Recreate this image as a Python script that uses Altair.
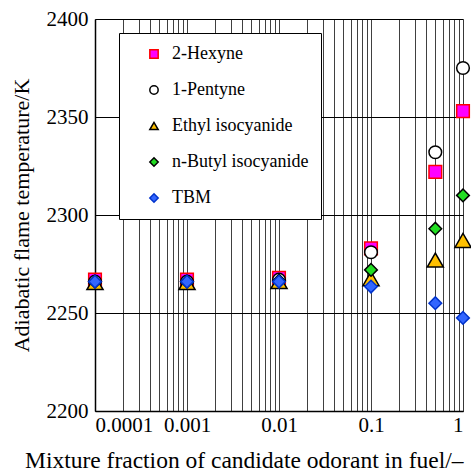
import altair as alt
import pandas as pd

fractions = [0.0001, 0.001, 0.01, 0.1, 0.5, 1.0]
series_names = ["2-Hexyne", "1-Pentyne", "Ethyl isocyanide", "n-Butyl isocyanide", "TBM"]
hexyne = [2267, 2267, 2268, 2283, 2322, 2353]
pentyne = [2266, 2266, 2267, 2281, 2332, 2375]
ethyl_iso = [2265.5, 2265.5, 2266, 2267.5, 2277, 2287]
butyl_iso = [2266, 2266, 2266.5, 2272, 2293, 2310]
tbm = [2266, 2266, 2266, 2263.5, 2255, 2247.5]

all_values = [hexyne, pentyne, ethyl_iso, butyl_iso, tbm]

shapes = ["square", "circle", "triangle-up", "diamond", "diamond"]
fills = ["#FF00FF", "#FFFFFF", "#FFC000", "#22DD22", "#3366FF"]
strokes = ["#FF0000", "#000000", "#000000", "#000000", "#0033CC"]

x_ticks = [m * 10.0 ** e for e in (-4, -3, -2, -1) for m in range(1, 10)] + [1.0]
x_ticks = [float(f"{v:.10g}") for v in x_ticks]
y_ticks = [2200, 2250, 2300, 2350, 2400]

rows = []
for name, vals in zip(series_names, all_values):
    for f, v in zip(fractions, vals):
        rows.append({"fraction": f, "temp": v, "series": name})
df = pd.DataFrame(rows)

font = "Liberation Serif"

legend = alt.Legend(
    title=None,
    orient="none",
    legendX=24,
    legendY=14,
    fillColor="white",
    strokeColor="black",
    padding=12,
    symbolOffset=14,
    labelOffset=9,
    rowPadding=18,
    labelFont=font,
    labelFontSize=18,
    labelColor="black",
    symbolSize=70,
    symbolStrokeWidth=1.5,
)

enc = dict(
    x=alt.X(
        "fraction:Q",
        scale=alt.Scale(type="log", domain=[0.0001, 1]),
        axis=alt.Axis(
            values=x_ticks,
            labelExpr="indexof([0.0001,0.001,0.01,0.1,1], datum.value) >= 0 ? datum.label : ''",
            format="~g",
            labelOverlap=False,
            ticks=False,
            grid=True,
            gridColor="black",
            gridOpacity=0.75,
            gridWidth=1,
            title="Mixture fraction of candidate odorant in fuel/\u2013",
            titleFont=font,
            titleFontWeight="normal",
            titleColor="black",
            titleFontSize=23.5,
            titleX=368,
            titleAlign="right",
            titlePadding=13,
            labelFont=font,
            labelColor="black",
            labelFontSize=21,
            labelPadding=3,
            domainColor="black",
            domainWidth=1.5,
        ),
    ),
    y=alt.Y(
        "temp:Q",
        scale=alt.Scale(domain=[2200, 2400]),
        axis=alt.Axis(
            values=y_ticks,
            format="d",
            ticks=False,
            grid=True,
            gridColor="black",
            gridWidth=1,
            title="Adiabatic flame temperature/K",
            titleFont=font,
            titleFontWeight="normal",
            titleColor="black",
            titleFontSize=22,
            titlePadding=13,
            labelFont=font,
            labelColor="black",
            labelFontSize=21,
            labelPadding=7,
            domainColor="black",
            domainWidth=1.5,
        ),
    ),
    shape=alt.Shape("series:N", scale=alt.Scale(domain=series_names, range=shapes), legend=legend),
    fill=alt.Fill("series:N", scale=alt.Scale(domain=series_names, range=fills), legend=legend),
    stroke=alt.Stroke("series:N", scale=alt.Scale(domain=series_names, range=strokes), legend=legend),
)

base = alt.Chart(df)
layer_a = base.mark_point(filled=True, size=160, strokeWidth=1.5, opacity=1).encode(**enc).transform_filter(
    alt.FieldOneOfPredicate(field="series", oneOf=series_names[0:2])
)
layer_b = base.mark_point(filled=True, size=260, strokeWidth=1.5, opacity=1).encode(**enc).transform_filter(
    alt.FieldOneOfPredicate(field="series", oneOf=series_names[2:3])
)
layer_c = base.mark_point(filled=True, size=160, strokeWidth=1.5, opacity=1).encode(**enc).transform_filter(
    alt.FieldOneOfPredicate(field="series", oneOf=series_names[3:5])
)

chart = alt.layer(layer_a, layer_b, layer_c).properties(
    width=368,
    height=392,
    autosize=alt.AutoSizeParams(type="none"),
    padding={"left": 95, "top": 19, "right": 8, "bottom": 62},
).configure_view(
    stroke="black",
    strokeWidth=1.5,
).configure_legend(
    labelFont=font,
    labelFontSize=18,
    labelColor="black",
).configure(background="white", font=font)

chart.save("out.html", embed_options={"renderer": "svg", "actions": False})
